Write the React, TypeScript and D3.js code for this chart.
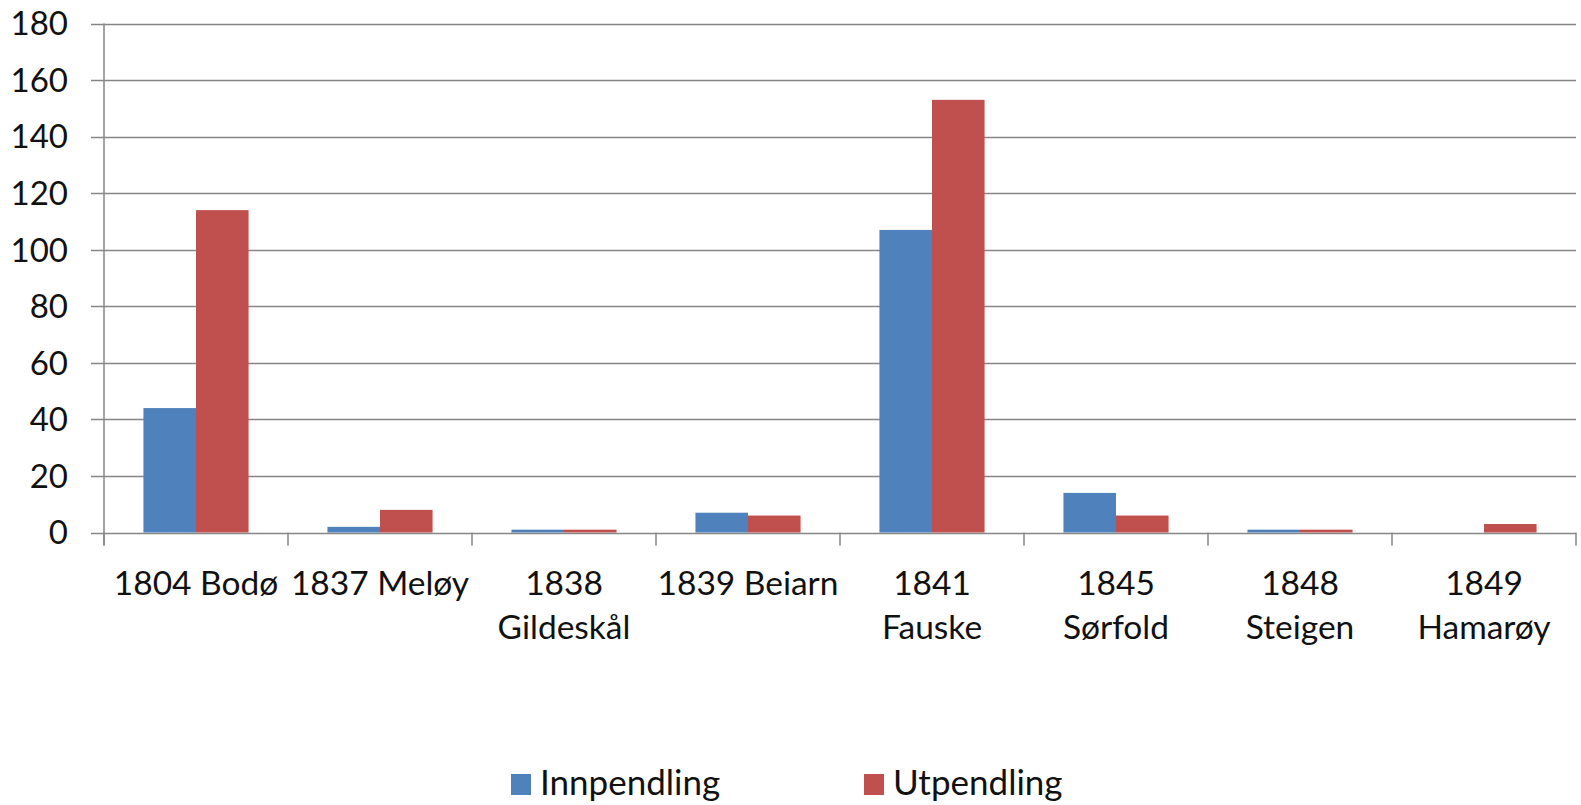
import React from "react";
import * as d3 from "d3";

// municipality labels ("\n" marks where Excel wrapped the label)
const categories = [
  "1804 Bodø",
  "1837 Meløy",
  "1838\nGildeskål",
  "1839 Beiarn",
  "1841\nFauske",
  "1845\nSørfold",
  "1848\nSteigen",
  "1849\nHamarøy",
];
const innpendling = [44, 2, 1, 7, 107, 14, 1, 0];
const utpendling = [114, 8, 1, 6, 153, 6, 1, 3];
const yTicks = [0, 20, 40, 60, 80, 100, 120, 140, 160, 180];
const seriesNames = ["Innpendling", "Utpendling"];
const colors = ["#4F81BD", "#C0504D"];

const W = 1581;
const H = 805;
const left = 104;
const right = 1576;
const top = 23.5;
const bottom = 532.5;
const font = "Lato, 'Open Sans', sans-serif";

export default function App() {
  const x = d3
    .scaleBand<string>()
    .domain(categories)
    .range([left, right])
    .paddingInner(0)
    .paddingOuter(0);
  const y = d3.scaleLinear().domain([0, 180]).range([bottom, top]);

  // gap width 150% -> each bar is band / 3.5
  const barW = x.bandwidth() / 3.5;
  const inner = d3
    .scaleBand<number>()
    .domain([0, 1])
    .range([barW * 0.75, barW * 2.75]);

  const series = [innpendling, utpendling];
  const boundaries = categories.map((c) => x(c) as number).concat([right]);

  return (
    <svg
      width={W}
      height={H}
      style={{ position: "absolute", left: 0, top: 0, background: "#fff" }}
      fontFamily={font}
    >
      {yTicks.map((t) => (
        <g key={t}>
          <line
            x1={91}
            x2={right}
            y1={Math.round(y(t)) + 0.5}
            y2={Math.round(y(t)) + 0.5}
            stroke="#868686"
            strokeWidth={1.5}
          />
          <text
            x={68}
            y={y(t)}
            dy="0.36em"
            textAnchor="end"
            fontSize={33}
            fill="#111"
          >
            {t}
          </text>
        </g>
      ))}
      <line x1={left} x2={left} y1={top} y2={bottom + 13} stroke="#868686" strokeWidth={1.5} />
      {boundaries.map((b, i) => (
        <line
          key={i}
          x1={b}
          x2={b}
          y1={bottom}
          y2={bottom + 13}
          stroke="#868686"
          strokeWidth={1.5}
        />
      ))}
      {series.map((vals, s) =>
        vals.map((v, i) => (
          <rect
            key={`${s}-${i}`}
            x={(x(categories[i]) as number) + (inner(s) as number)}
            y={y(v)}
            width={inner.bandwidth()}
            height={bottom - y(v)}
            fill={colors[s]}
          />
        ))
      )}
      {categories.map((c) => {
        const lines = c.split("\n");
        const cx = (x(c) as number) + x.bandwidth() / 2;
        return (
          <text key={c} textAnchor="middle" fontSize={33.5} fill="#111">
            {lines.map((l, k) => (
              <tspan key={k} x={cx} y={595 + k * 44}>
                {l}
              </tspan>
            ))}
          </text>
        );
      })}
      {seriesNames.map((n, s) => {
        const lx = s === 0 ? 511 : 864;
        return (
          <g key={n}>
            <rect x={lx} y={774} width={20} height={21} fill={colors[s]} />
            <text x={lx + 29} y={795} fontSize={35} fill="#111">
              {n}
            </text>
          </g>
        );
      })}
    </svg>
  );
}
